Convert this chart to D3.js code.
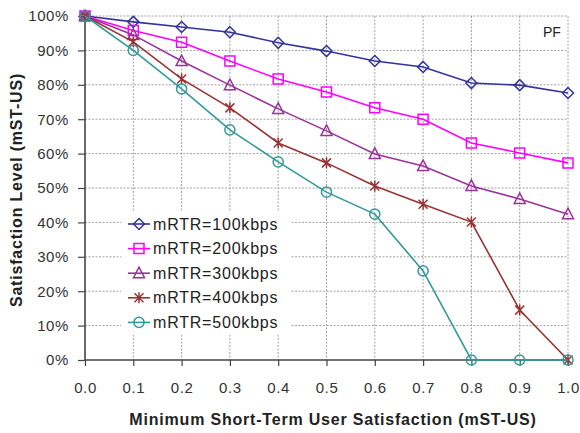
<!DOCTYPE html>
<html>
<head>
<meta charset="utf-8">
<script src="https://cdn.jsdelivr.net/npm/d3@7"></script>
<style>
  html, body { margin: 0; padding: 0; background: #fff; }
  svg { display: block; font-family: "Liberation Sans", Arial, sans-serif; }
</style>
</head>
<body>
<svg id="chart" width="580" height="433"></svg>
<script>
// Minimum short-term user satisfaction thresholds (x axis)
const xValues = [0.0, 0.1, 0.2, 0.3, 0.4, 0.5, 0.6, 0.7, 0.8, 0.9, 1.0];

// Satisfaction level (%) per mRTR setting
const rtr100 = [100, 98.3, 96.8, 95.3, 92.2, 89.8, 86.9, 85.2, 80.5, 79.9, 77.6];
const rtr200 = [100, 95.8, 92.4, 86.9, 81.7, 77.9, 73.3, 70.0, 63.1, 60.2, 57.3];
const rtr300 = [100, 94.5, 86.9, 79.9, 73.0, 66.6, 59.9, 56.4, 50.6, 46.8, 42.4];
const rtr400 = [100, 92.5, 81.7, 73.3, 63.1, 57.3, 50.6, 45.3, 40.1, 14.5, 0];
const rtr500 = [100, 90.0, 78.8, 66.9, 57.6, 48.8, 42.4, 25.9, 0, 0, 0];

const seriesNames = ["mRTR=100kbps", "mRTR=200kbps", "mRTR=300kbps", "mRTR=400kbps", "mRTR=500kbps"];
const yTicks = [0, 10, 20, 30, 40, 50, 60, 70, 80, 90, 100];

const colors = ["#333399", "#ff00ff", "#993399", "#993333", "#339999"];
const markers = ["diamond", "square", "triangle", "star", "circle"];
const seriesValues = [rtr100, rtr200, rtr300, rtr400, rtr500];

const svg = d3.select("#chart");
const plotLeft = 85, plotRight = 568, plotTop = 16, plotBottom = 360;

const x = d3.scaleLinear().domain([0, 1]).range([plotLeft, plotRight]);
const y = d3.scaleLinear().domain([0, 100]).range([plotBottom, plotTop]);

// dotted grid
const grid = svg.append("g").attr("stroke", "#a0a0a0").attr("stroke-width", 1)
  .attr("stroke-dasharray", "2,1.5");
xValues.filter(v => v > 0).forEach(v => {
  grid.append("line").attr("x1", x(v)).attr("x2", x(v)).attr("y1", plotTop).attr("y2", plotBottom);
});
yTicks.filter(v => v > 0).forEach(v => {
  grid.append("line").attr("x1", plotLeft).attr("x2", plotRight).attr("y1", y(v)).attr("y2", y(v));
});

// axes
const yAxis = d3.axisLeft(y).tickValues(yTicks).tickFormat(d => d + "%").tickSize(7).tickPadding(9);
const xAxis = d3.axisBottom(x).tickValues(xValues).tickFormat(d3.format(".1f")).tickSize(6).tickPadding(16);

const gy = svg.append("g").attr("transform", `translate(${plotLeft},0)`).call(yAxis);
const gx = svg.append("g").attr("transform", `translate(0,${plotBottom})`).call(xAxis);
[gx, gy].forEach(g => {
  g.select(".domain").attr("stroke", "#444").attr("stroke-width", 1.6);
  g.selectAll(".tick line").attr("stroke", "#444").attr("stroke-width", 1.2);
  g.selectAll(".tick text").attr("fill", "#333").style("font-size", "15px")
    .style("letter-spacing", "0.6px").style("font-family", "'Liberation Sans', Arial, sans-serif");
});
gy.select(".domain").attr("d", `M0,${plotBottom}V${plotTop}`);
gx.select(".domain").attr("d", `M${plotLeft},0H${plotRight}`);

// marker shapes
function markerPath(kind) {
  switch (kind) {
    case "diamond": return "M0,-5.5L5.5,0L0,5.5L-5.5,0Z";
    case "square": return "M-5,-5H5V5H-5Z";
    case "triangle": return "M0,-6L5.5,4.5H-5.5Z";
    case "star": return "M-4.5,-4.5L4.5,4.5M-4.5,4.5L4.5,-4.5M0,-5.5V5.5";
    default: return d3.symbol(d3.symbolCircle, 80)();
  }
}

const line = d3.line().x(d => x(d[0])).y(d => y(d[1]));

seriesValues.forEach((vals, i) => {
  const pts = xValues.map((v, j) => [v, vals[j]]);
  const g = svg.append("g");
  g.append("path").datum(pts).attr("d", line).attr("fill", "none")
    .attr("stroke", colors[i]).attr("stroke-width", 1.6);
  g.selectAll("path.m").data(pts).enter().append("path").attr("class", "m")
    .attr("transform", d => `translate(${x(d[0])},${y(d[1])})`)
    .attr("d", markerPath(markers[i]))
    .attr("fill", "none").attr("stroke", colors[i]).attr("stroke-width", 1.5);
});

// legend
const legend = svg.append("g");
legend.append("rect").attr("x", 121).attr("y", 211).attr("width", 170).attr("height", 124).attr("fill", "#fff");
seriesNames.forEach((name, i) => {
  const ly = 224 + i * 24.6;
  legend.append("line").attr("x1", 128).attr("x2", 150).attr("y1", ly).attr("y2", ly)
    .attr("stroke", colors[i]).attr("stroke-width", 1.6);
  legend.append("path").attr("transform", `translate(139,${ly})`).attr("d", markerPath(markers[i]))
    .attr("fill", "none").attr("stroke", colors[i]).attr("stroke-width", 1.5);
  legend.append("text").attr("x", 153).attr("y", ly + 5.5).text(name)
    .attr("fill", "#222").style("font-size", "16px").style("letter-spacing", "0.8px");
});

// annotation
svg.append("text").attr("x", 543).attr("y", 37).text("PF").attr("fill", "#222").style("font-size", "14px");

// axis titles
svg.append("text").attr("x", 333).attr("y", 425).attr("text-anchor", "middle")
  .attr("font-weight", "bold").attr("fill", "#222").style("font-size", "16px").style("letter-spacing", "0.8px")
  .text("Minimum Short-Term User Satisfaction (mST-US)");
svg.append("text").attr("transform", "translate(22,190) rotate(-90)").attr("text-anchor", "middle")
  .attr("font-weight", "bold").attr("fill", "#222").style("font-size", "16px").style("letter-spacing", "0.8px")
  .text("Satisfaction Level (mST-US)");
</script>
</body>
</html>
